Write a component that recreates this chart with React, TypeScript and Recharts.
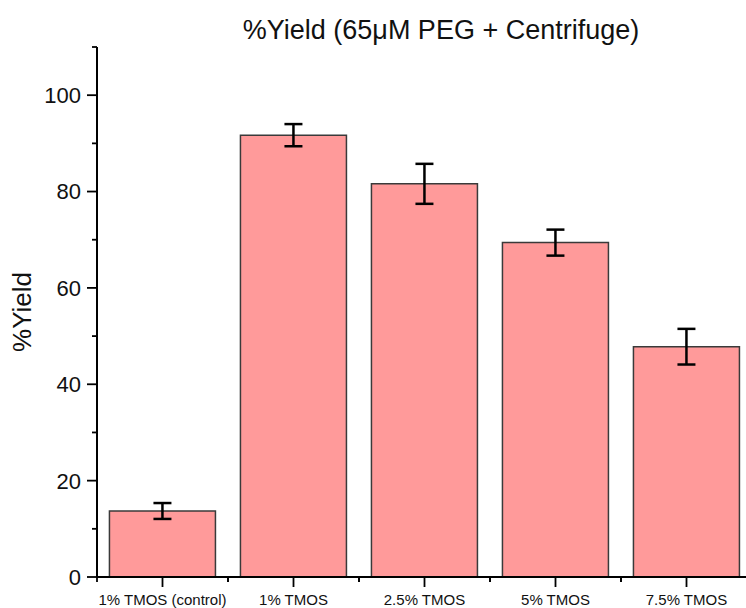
import { Bar, BarChart, ErrorBar, XAxis, YAxis } from 'recharts'

const categories = ['1% TMOS (control)', '1% TMOS', '2.5% TMOS', '5% TMOS', '7.5% TMOS']
const yieldPct = [13.7, 91.7, 81.6, 69.4, 47.8]
const yieldErr = [1.65, 2.3, 4.15, 2.7, 3.7]
const yTicks = [0, 10, 20, 30, 40, 50, 60, 70, 80, 90, 100, 110]

const data = categories.map((name, i) => ({ name, value: yieldPct[i], err: yieldErr[i] }))

const W = 752
const H = 608
const AXIS_W = 97
const PLOT_W = W - AXIS_W
const FONT = '"Liberation Sans", Arial, Helvetica, sans-serif'

// y ticks: long + label every 20, short minor tick in between
function YTick({ x, y, payload }: any) {
  const major = payload.value % 20 === 0
  return (
    <g>
      <line x1={x - (major ? 10 : 5)} x2={x} y1={y} y2={y} stroke="#000" strokeWidth={1.8} />
      {major && (
        <text x={x - 16} y={y} dy="0.36em" textAnchor="end" fontSize={22} fill="#111" fontFamily={FONT}>
          {payload.value}
        </text>
      )}
    </g>
  )
}

// x ticks: long tick at the category centre, short ones at the band edges
function XTick({ x, y, payload }: any) {
  const half = PLOT_W / categories.length / 2
  return (
    <g>
      <line x1={x} x2={x} y1={y} y2={y + 10} stroke="#000" strokeWidth={1.8} />
      <line x1={x - half} x2={x - half} y1={y} y2={y + 5} stroke="#000" strokeWidth={1.8} />
      <line x1={x + half} x2={x + half} y1={y} y2={y + 5} stroke="#000" strokeWidth={1.8} />
      <text x={x} y={y + 28} textAnchor="middle" fontSize={15} fill="#111" fontFamily={FONT}>
        {payload.value}
      </text>
    </g>
  )
}

function YLabel({ viewBox }: any) {
  const cx = viewBox.x + 22
  const cy = viewBox.y + viewBox.height / 2
  return (
    <text
      x={cx}
      y={cy}
      transform={`rotate(-90 ${cx} ${cy})`}
      textAnchor="middle"
      dy="0.36em"
      fontSize={26}
      fill="#111"
      fontFamily={FONT}
    >
      %Yield
    </text>
  )
}

export default function App() {
  return (
    <div
      style={{
        position: 'absolute',
        left: 0,
        top: 0,
        width: 746,
        height: 608,
        overflow: 'hidden',
        background: '#fff',
      }}
    >
      <div
        style={{
          position: 'absolute',
          left: 141,
          top: 17,
          width: 600,
          textAlign: 'center',
          fontFamily: FONT,
          fontSize: 27,
          lineHeight: 1,
          color: '#111',
        }}
      >
        %Yield (65μM PEG + Centrifuge)
      </div>
      <BarChart
        width={W}
        height={H}
        data={data}
        margin={{ top: 47, right: 0, left: 0, bottom: 0 }}
        barCategoryGap="9.5%"
      >
        <XAxis
          dataKey="name"
          interval={0}
          height={31}
          tickSize={0}
          tickMargin={0}
          tickLine={false}
          tick={<XTick />}
          axisLine={{ stroke: '#000', strokeWidth: 2 }}
        />
        <YAxis
          type="number"
          domain={[0, 110]}
          ticks={yTicks}
          interval={0}
          width={AXIS_W}
          tickSize={0}
          tickMargin={0}
          tickLine={false}
          tick={<YTick />}
          axisLine={{ stroke: '#000', strokeWidth: 2 }}
          label={<YLabel />}
        />
        <Bar dataKey="value" fill="#ff9a9a" stroke="#3a3a3a" strokeWidth={1.5} isAnimationActive={false}>
          <ErrorBar
            dataKey="err"
            direction="y"
            width={9}
            stroke="#000"
            strokeWidth={2.5}
            isAnimationActive={false}
          />
        </Bar>
      </BarChart>
    </div>
  )
}
